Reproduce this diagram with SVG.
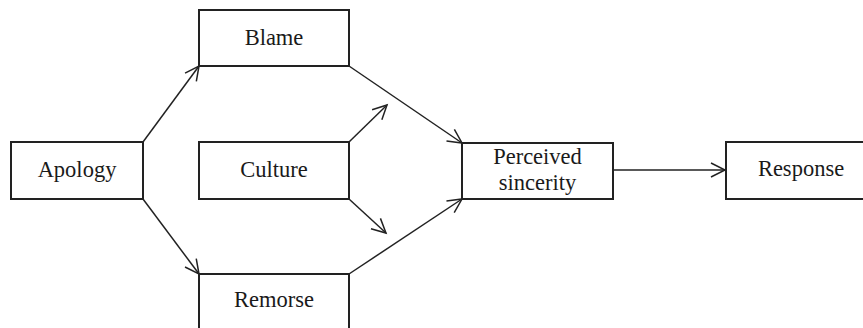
<svg xmlns="http://www.w3.org/2000/svg" width="863" height="328" viewBox="0 0 863 328">
<style>
.box{fill:#fff;stroke:#222;stroke-width:2}
.lbl{font-family:"Liberation Serif","Times New Roman",serif;font-size:22.5px;fill:#1a1a1a;text-anchor:middle}
.edge{stroke:#222;stroke-width:1.5;fill:none;marker-end:url(#arr)}
</style>
<defs>
<marker id="arr" markerUnits="userSpaceOnUse" markerWidth="18" markerHeight="18" refX="14" refY="7" orient="auto" overflow="visible">
<path d="M0,0 L14,7 L0,14" fill="none" stroke="#222" stroke-width="1.5"/>
</marker>
</defs>
<rect width="863" height="328" fill="#fff"/>
<g id="connectors">
<line class="edge" x1="143" y1="142" x2="199" y2="66"/>
<line class="edge" x1="143" y1="199" x2="199" y2="274"/>
<line class="edge" x1="349" y1="66" x2="462" y2="143"/>
<line class="edge" x1="349" y1="274" x2="462" y2="199"/>
<line class="edge" x1="349" y1="142" x2="387" y2="105"/>
<line class="edge" x1="349" y1="199" x2="386" y2="233"/>
<line class="edge" x1="613" y1="170" x2="725" y2="170"/>
</g>
<g id="blame">
<rect class="box" x="199" y="10" width="150" height="56"/>
<text class="lbl" x="274" y="45">Blame</text>
</g>
<g id="apology">
<rect class="box" x="11" y="142" width="132" height="57"/>
<text class="lbl" x="77" y="177">Apology</text>
</g>
<g id="culture">
<rect class="box" x="199" y="142" width="150" height="57"/>
<text class="lbl" x="274" y="177">Culture</text>
</g>
<g id="remorse">
<rect class="box" x="199" y="274" width="150" height="60"/>
<text class="lbl" x="274" y="307">Remorse</text>
</g>
<g id="perceived-sincerity">
<rect class="box" x="462" y="143" width="151" height="56"/>
<text class="lbl" x="537.5" y="164">Perceived</text>
<text class="lbl" x="537.5" y="190">sincerity</text>
</g>
<g id="response">
<rect class="box" x="726" y="142" width="152" height="57"/>
<text class="lbl" x="801" y="176">Response</text>
</g>
</svg>
